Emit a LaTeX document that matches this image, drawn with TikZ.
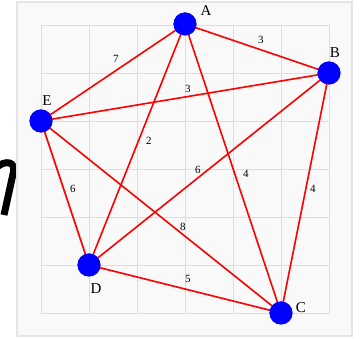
\documentclass[tikz,border=0pt]{standalone}
\usepackage{fontspec}
\setmainfont{Liberation Serif}
\begin{document}
\begin{tikzpicture}[x=1pt,y=-1pt,
  vtx/.style={circle,fill=blue,minimum size=23pt,inner sep=0pt},
  edge/.style={red,line width=1.6pt},
  wt/.style={font=\fontsize{11}{11}\selectfont,inner sep=0pt},
  vlab/.style={font=\fontsize{15}{15}\selectfont,inner sep=0pt},
  gridline/.style={draw=black!13,line width=0.9pt}]
\useasboundingbox (0,0) rectangle (360,339);
\fill[white] (0,0) rectangle (360,339);
% partial glyph at left
\draw[line width=7pt,black] (-3,167) .. controls (5,160) and (17,161) .. (13,174) -- (4,215);
% panel
\draw[fill=black!2.5,draw=black!10,line width=1.2pt] (17,2) rectangle (352,336);
% grid
\foreach \x in {41,89,137,185,233,281,329} \draw[gridline] (\x,25) -- (\x,313);
\foreach \y in {25,73,121,169,217,265,313} \draw[gridline] (41,\y) -- (329,\y);
% vertices
\node[vtx] (A) at (185,24) {};
\node[vtx] (B) at (329,73) {};
\node[vtx] (E) at (41,121) {};
\node[vtx] (D) at (89,265) {};
\node[vtx] (C) at (281,313) {};
% edges
\draw[edge] (E.center) -- (A.center);
\draw[edge] (A.center) -- (B.center);
\draw[edge] (E.center) -- (B.center);
\draw[edge] (A.center) -- (D.center);
\draw[edge] (D.center) -- (B.center);
\draw[edge] (A.center) -- (C.center);
\draw[edge] (B.center) -- (C.center);
\draw[edge] (E.center) -- (D.center);
\draw[edge] (E.center) -- (C.center);
\draw[edge] (D.center) -- (C.center);
% redraw vertices on top
\foreach \v in {A,B,C,D,E} \fill[blue] (\v) circle (11.5);
% vertex labels
\node[vlab] (lA) at (206,11) {A};
\node[vlab] (lB) at (335,53) {B};
\node[vlab] (lC) at (301,308) {C};
\node[vlab] (lD) at (96,289) {D};
\node[vlab] (lE) at (47,101) {E};
% weights
\node[wt] (w1) at (116,59) {7};
\node[wt] (w2) at (261,40) {3};
\node[wt] (w3) at (188,89) {3};
\node[wt] (w4) at (149,141) {2};
\node[wt] (w5) at (198,170) {6};
\node[wt] (w6) at (246,174) {4};
\node[wt] (w7) at (313,189) {4};
\node[wt] (w8) at (73,189) {6};
\node[wt] (w9) at (183,227) {8};
\node[wt] (w10) at (188,279) {5};
\end{tikzpicture}
\end{document}
